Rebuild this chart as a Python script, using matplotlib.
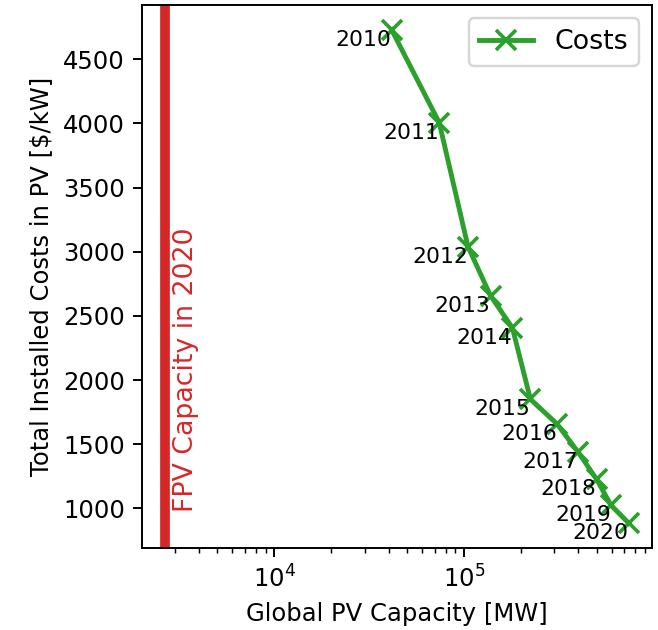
import matplotlib
matplotlib.use("Agg")
import matplotlib.pyplot as plt

YEARS = [2010, 2011, 2012, 2013, 2014, 2015, 2016, 2017, 2018, 2019, 2020]
CAPACITY_MW = [41500, 74000, 105000, 138000, 180000, 224000, 310000, 400000, 500000, 596000, 740000]
COSTS = [4731, 4007, 3039, 2657, 2407, 1851, 1656, 1438, 1227, 1024, 883]
FPV_CAPACITY_2020 = 2655

DPI = 175
fig = plt.figure(figsize=(658 / DPI, 630 / DPI), dpi=DPI)
ax = fig.add_axes([142 / 658, 1 - 548 / 630, 510 / 658, 543 / 630])

ax.plot(CAPACITY_MW, COSTS, color="tab:green", marker="x", label="Costs",
        linewidth=2, markersize=8, markeredgewidth=1.5)
for year, cap, cost in zip(YEARS, CAPACITY_MW, COSTS):
    ax.text(cap, cost, str(year), ha="right", va="top", fontsize=9)

ax.axvline(FPV_CAPACITY_2020, color="tab:red", linewidth=4)
ax.text(FPV_CAPACITY_2020 * 1.1, 969, "FPV Capacity in 2020", color="tab:red",
        rotation=90, ha="left", va="bottom", fontsize=11)

ax.set_xscale("log")
ax.set_xlabel("Global PV Capacity [MW]")
ax.set_ylabel("Total Installed Costs in PV [$/kW]")
ax.legend(loc="upper right", fontsize=11)

fig.savefig("out.png", dpi=DPI)
